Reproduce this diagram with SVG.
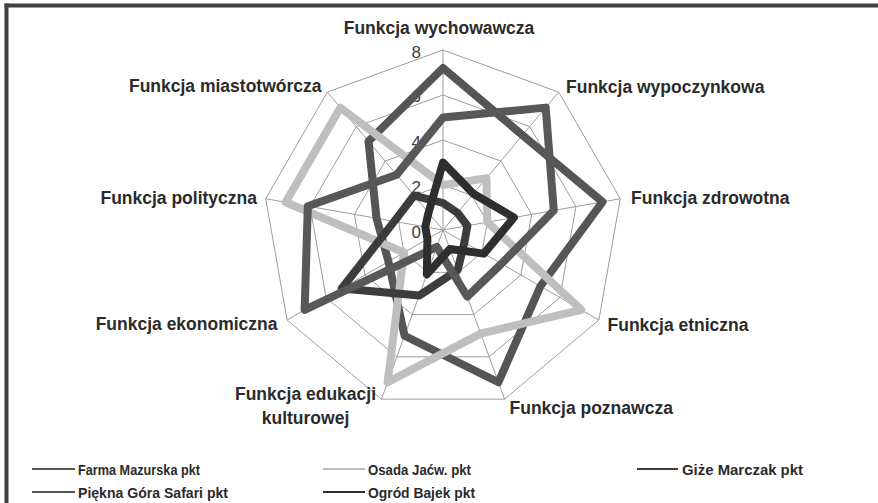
<svg xmlns="http://www.w3.org/2000/svg" width="878" height="503" viewBox="0 0 878 503">
<style>
.grid{fill:none;stroke:#9c9c9c;stroke-width:1}
.ser{fill:none;stroke-width:8;stroke-linejoin:round;stroke-linecap:round}
.cat{font-family:"Liberation Sans",Arial,sans-serif;font-weight:bold;font-size:17.5px;fill:#2b2b2b}
.num{font-family:"Liberation Sans",Arial,sans-serif;font-size:17px;fill:#404040;text-anchor:end}
.leg{font-family:"Liberation Sans",Arial,sans-serif;font-weight:bold;font-size:15.5px;fill:#2b2b2b}
.legline{stroke-width:2}
</style>
<rect x="0" y="0" width="878" height="503" fill="#ffffff"/>
<g id="frame" fill="#404040">
<rect x="4.5" y="3.5" width="873.5" height="4"/>
<rect x="4.5" y="3.5" width="4" height="499.5"/>
</g>
<g id="grid">
<polygon class="grid" points="443,50 558.70,92.11 620.27,198.74 598.88,320 504.56,399.14 381.44,399.14 287.12,320 265.73,198.74 327.30,92.11"/>
<polygon class="grid" points="443,95 529.78,126.58 575.95,206.56 559.91,297.5 489.17,356.86 396.83,356.86 326.09,297.5 310.05,206.56 356.22,126.58"/>
<polygon class="grid" points="443,140 500.85,161.06 531.63,214.37 520.94,275 473.78,314.57 412.22,314.57 365.06,275 354.37,214.37 385.15,161.06"/>
<polygon class="grid" points="443,185 471.93,195.53 487.32,222.19 481.97,252.5 458.39,272.29 427.61,272.29 404.03,252.5 398.68,222.19 414.07,195.53"/>
<path class="grid" d="M443,230L443,50M443,230L558.70,92.11M443,230L620.27,198.74M443,230L598.88,320M443,230L504.56,399.14M443,230L381.44,399.14M443,230L287.12,320M443,230L265.73,198.74M443,230L327.30,92.11"/>
</g>
<g id="axis-values">
<text class="num" x="421" y="57.5">8</text>
<text class="num" x="421" y="102">6</text>
<text class="num" x="421" y="147.5">4</text>
<text class="num" x="421" y="192.5">2</text>
<text class="num" x="421" y="238">0</text>
</g>
<g id="series">
<polygon id="farma-mazurska" class="ser" stroke="#555555" points="443,68 522.55,135.20 602.54,201.87 540.43,286.25 498.41,382.23 404.52,335.72 388.44,261.5 376.53,218.28 368.52,141.23"/>
<polygon id="osada-jacw" class="ser" stroke="#bfbfbf" points="443,185 486.39,178.29 487.32,222.19 581.35,309.88 480.71,333.60 387.59,382.23 404.03,252.5 285.68,202.26 340.31,107.63"/>
<polygon id="gize-marczak" class="ser" stroke="#3c3c3c" points="443,203 457.46,212.76 467.37,225.70 464.43,242.38 457.62,270.17 419.14,295.54 341.68,288.5 394.25,221.40 414.07,195.53"/>
<polygon id="piekna-gora-safari" class="ser" stroke="#585858" points="443,117.5 545.69,107.63 553.79,210.46 501.46,263.75 467.24,296.60 436.84,246.91 304.65,309.88 307.83,206.17 396.72,174.84"/>
<polygon id="ogrod-bajek" class="ser" stroke="#2e2e2e" points="443,162.5 473.37,193.80 513.91,217.50 483.92,253.63 449.93,249.03 426.84,274.40 427.41,239 425.27,226.87 428.54,212.76"/>
</g>
<g id="categories">
<text class="cat" x="439" y="33.5" text-anchor="middle">Funkcja wychowawcza</text>
<text class="cat" x="566" y="92.5">Funkcja wypoczynkowa</text>
<text class="cat" x="631" y="204">Funkcja zdrowotna</text>
<text class="cat" x="607.5" y="331">Funkcja etniczna</text>
<text class="cat" x="509.5" y="413.5">Funkcja poznawcza</text>
<text class="cat" x="305.5" y="400" text-anchor="middle">Funkcja edukacji</text>
<text class="cat" x="305.5" y="424" text-anchor="middle">kulturowej</text>
<text class="cat" x="277.5" y="330" text-anchor="end">Funkcja ekonomiczna</text>
<text class="cat" x="257" y="203.5" text-anchor="end">Funkcja polityczna</text>
<text class="cat" x="321.5" y="91.7" text-anchor="end">Funkcja miastotwórcza</text>
</g>
<g id="legend">
<g id="leg-farma"><line class="legline" x1="32" y1="469" x2="75" y2="469" stroke="#555555"/><text class="leg" x="78" y="474.5" textLength="122" lengthAdjust="spacingAndGlyphs">Farma Mazurska pkt</text></g>
<g id="leg-osada"><line class="legline" x1="323" y1="469" x2="365" y2="469" stroke="#bfbfbf"/><text class="leg" x="368" y="474.5" textLength="103" lengthAdjust="spacingAndGlyphs">Osada Jaćw. pkt</text></g>
<g id="leg-gize"><line class="legline" x1="637" y1="469" x2="678" y2="469" stroke="#3c3c3c"/><text class="leg" x="682" y="474.5" textLength="121" lengthAdjust="spacingAndGlyphs">Giże Marczak pkt</text></g>
<g id="leg-piekna"><line class="legline" x1="32" y1="492" x2="75" y2="492" stroke="#585858"/><text class="leg" x="78" y="497.5" textLength="150" lengthAdjust="spacingAndGlyphs">Piękna Góra Safari pkt</text></g>
<g id="leg-ogrod"><line class="legline" x1="323" y1="492" x2="365" y2="492" stroke="#2e2e2e"/><text class="leg" x="368" y="497.5" textLength="107" lengthAdjust="spacingAndGlyphs">Ogród Bajek pkt</text></g>
</g>
</svg>
